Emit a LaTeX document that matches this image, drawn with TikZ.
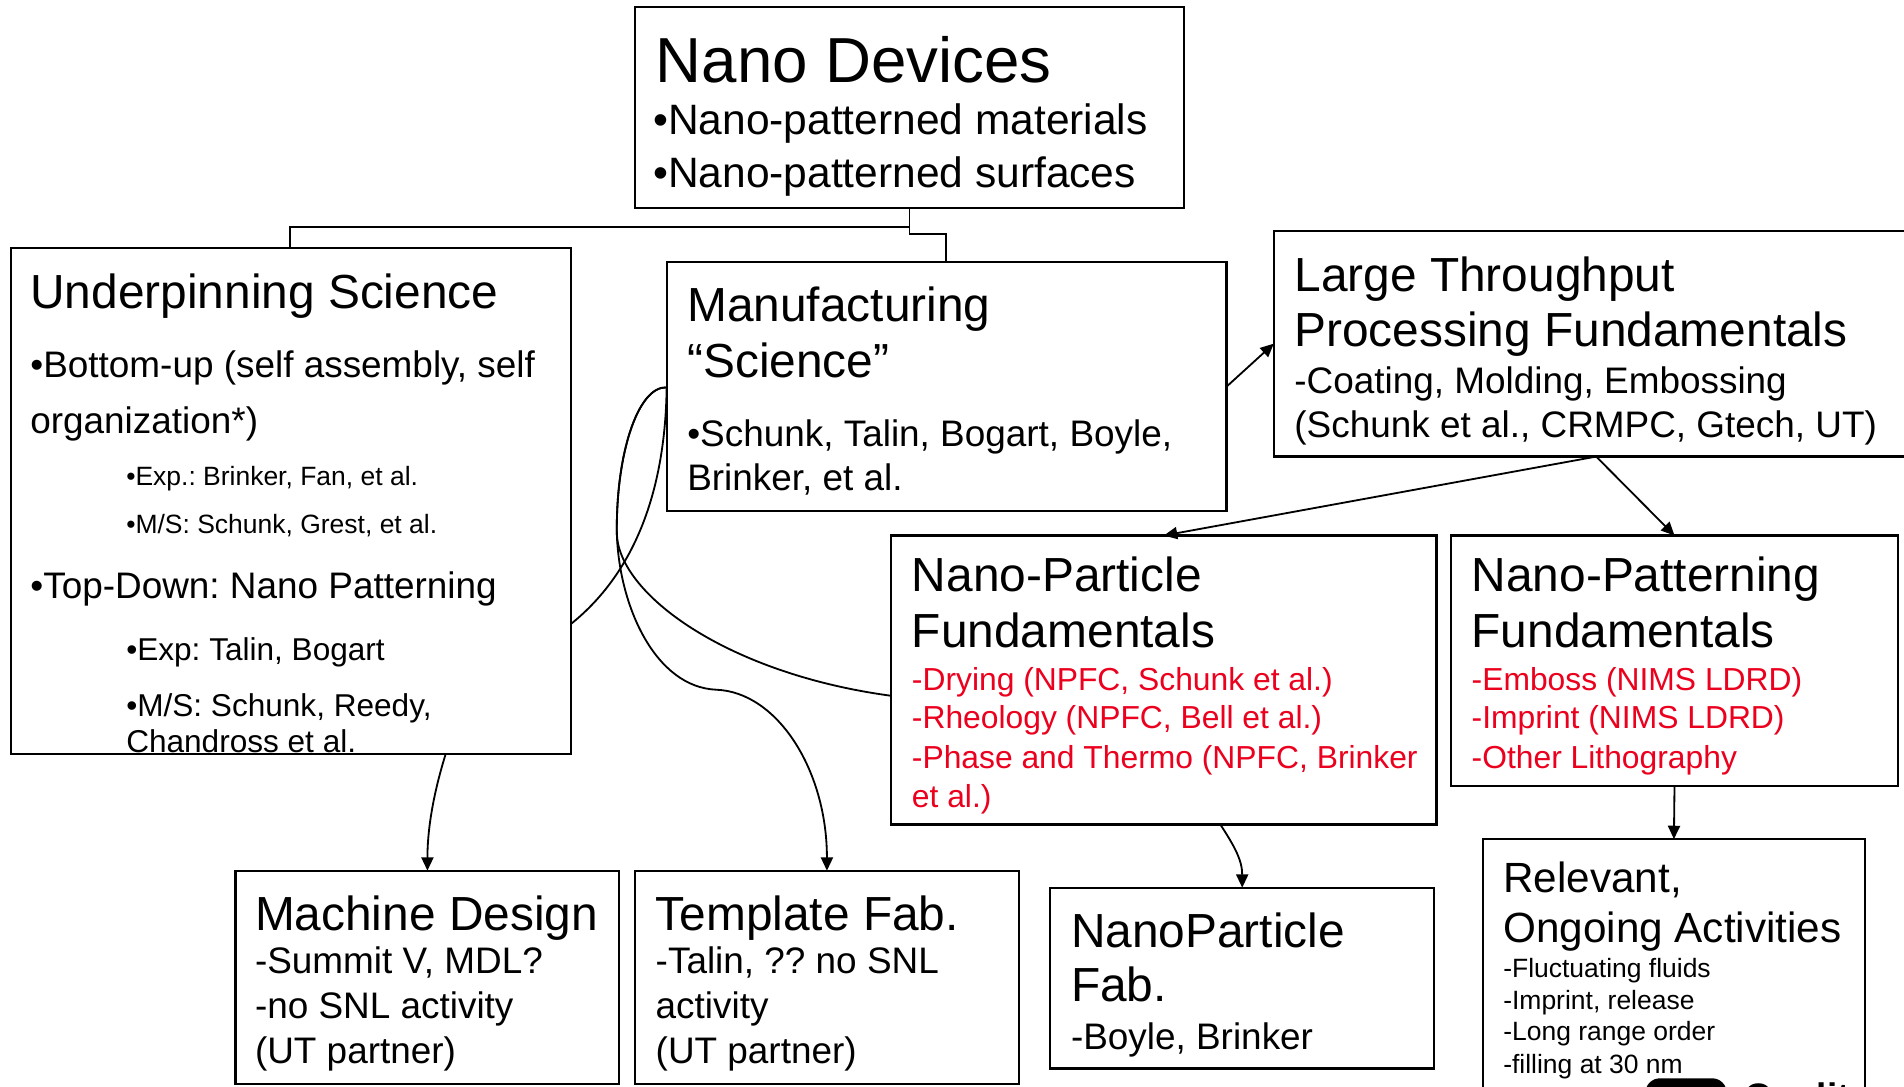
\documentclass[tikz,border=0pt]{standalone}
\usepackage{fontspec}
\setmainfont{Liberation Sans}
\usetikzlibrary{arrows.meta,fit,calc}
\definecolor{myred}{RGB}{235,0,30}
\frenchspacing
\begin{document}
\frenchspacing
\begin{tikzpicture}[x=0.5pt,y=-0.5pt,
  box/.style={draw, line width=0.9pt, inner sep=0pt, outer sep=0pt},
  conn/.style={line width=0.75pt},
  arr/.style={line width=0.75pt, -{Triangle[length=5.5pt,width=5pt]}},
  tx/.style={anchor=base west, inner sep=0pt, outer sep=0pt},
  tA/.style={tx, font=\fontsize{26.2pt}{31pt}\selectfont},
  tB/.style={tx, font=\fontsize{17.5pt}{21pt}\selectfont},
  ttl/.style={tx, font=\fontsize{19.7pt}{23pt}\selectfont},
  ttR/.style={tx, font=\fontsize{17.4pt}{21pt}\selectfont},
  bd/.style={tx, font=\fontsize{15.2pt}{18pt}\selectfont},
  mdt/.style={tx, font=\fontsize{13pt}{16pt}\selectfont},
  sm/.style={tx, font=\fontsize{10.9pt}{13pt}\selectfont},
  rd/.style={tx, text=myred, font=\fontsize{13.1pt}{16pt}\selectfont}]
\useasboundingbox (0,0) rectangle (1568,895);
\fill[white] (0,0) rectangle (1568,895);
\clip (0,0) rectangle (1568,895);

% boxes
\node[box, fit={(523,6)(975,171)}] (nd) {};
\node[box, fit={(9,204)(470,621)}] (us) {};
\node[box, fit={(549,216)(1010,421)}] (ms) {};
\node[box, fit={(1049,190)(1580,376)}] (lt) {};
\node[box, fit={(734,441)(1183,679)}] (np) {};
\node[box, fit={(1195,441)(1563,647)}] (npat) {};
\node[box, fit={(194,717)(510,893)}] (md) {};
\node[box, fit={(523,717)(839,893)}] (tf) {};
\node[box, fit={(865,731)(1181,880)}] (nf) {};
\node[box, fit={(1221,691)(1536,910)}] (ro) {};

% texts: Nano Devices
\node[tA] (nd1) at (540,68) {Nano Devices};
\node[tB] (nd2) at (538,111) {•Nano-patterned materials};
\node[tB] (nd3) at (538,154) {•Nano-patterned surfaces};

% Underpinning Science
\node[ttl] (us1) at (25,254) {Underpinning Science};
\node[bd] (us2) at (25,311) {•Bottom-up (self assembly, self};
\node[bd] (us3) at (25,357) {organization*)};
\node[sm] (us4) at (104,400) {•Exp.: Brinker, Fan, et al.};
\node[sm] (us5) at (104,439) {•M/S: Schunk, Grest, et al.};
\node[bd] (us6) at (25,493) {•Top-Down: Nano Patterning};
\node[mdt] (us7) at (104,544) {•Exp: Talin, Bogart};
\node[mdt] (us8) at (104,590) {•M/S: Schunk, Reedy,};
\node[mdt] (us9) at (104,620) {Chandross et al.};

% Manufacturing Science
\node[ttl] (ms1) at (566,265) {Manufacturing};
\node[ttl] (ms2) at (566,311) {“Science”};
\node[bd] (ms3) at (566,368) {•Schunk, Talin, Bogart, Boyle,};
\node[bd] (ms4) at (566,404) {Brinker, et al.};

% Large Throughput
\node[ttl] (lt1) at (1066,240) {Large Throughput};
\node[ttl] (lt2) at (1066,285) {Processing Fundamentals};
\node[bd] (lt3) at (1066,324) {-Coating, Molding, Embossing};
\node[bd] (lt4) at (1066,360) {(Schunk et al., CRMPC, Gtech, UT)};

% Nano-Particle Fundamentals
\node[ttl] (np1) at (751,487) {Nano-Particle};
\node[ttl] (np2) at (751,533) {Fundamentals};
\node[rd] (np3) at (751,569) {-Drying (NPFC, Schunk et al.)};
\node[rd] (np4) at (751,600) {-Rheology (NPFC, Bell et al.)};
\node[rd] (np5) at (751,633) {-Phase and Thermo (NPFC, Brinker};
\node[rd] (np6) at (751,665) {et al.)};

% Nano-Patterning Fundamentals
\node[ttl] (pa1) at (1212,487) {Nano-Patterning};
\node[ttl] (pa2) at (1212,533) {Fundamentals};
\node[rd] (pa3) at (1212,569) {-Emboss (NIMS LDRD)};
\node[rd] (pa4) at (1212,600) {-Imprint (NIMS LDRD)};
\node[rd] (pa5) at (1212,633) {-Other Lithography};

% Machine Design
\node[ttl] (md1) at (210,766) {Machine Design};
\node[bd] (md2) at (210,802) {-Summit V, MDL?};
\node[bd] (md3) at (210,839) {-no SNL activity};
\node[bd] (md4) at (210,876) {(UT partner)};

% Template Fab.
\node[ttl] (tf1) at (540,766) {Template Fab.};
\node[bd] (tf2) at (540,802) {-Talin, ?? no SNL};
\node[bd] (tf3) at (540,839) {activity};
\node[bd] (tf4) at (540,876) {(UT partner)};

% NanoParticle Fab.
\node[ttl] (nf1) at (882,780) {NanoParticle};
\node[ttl] (nf2) at (882,825) {Fab.};
\node[bd] (nf3) at (882,864) {-Boyle, Brinker};

% Relevant, Ongoing Activities
\node[ttR] (ro1) at (1238,735) {Relevant,};
\node[ttR] (ro2) at (1238,776) {Ongoing Activities};
\node[sm] (ro3) at (1238,805) {-Fluctuating fluids};
\node[sm] (ro4) at (1238,831) {-Imprint, release};
\node[sm] (ro5) at (1238,857) {-Long range order};
\node[sm] (ro6) at (1238,884) {-filling at 30 nm};

% cut-off element at the bottom
\node[fill=black, rounded corners=6pt, inner sep=0pt, fit={(1355,888)(1422,930)}] (blob) {};
\node[tx, font=\bfseries\fontsize{15.2pt}{18pt}\selectfont] (qual) at (1437,914) {Quality};

% connectors
\coordinate (jA) at (749,187);
\coordinate (jL) at (239,187);
\coordinate (jB) at (749,193);
\coordinate (jR) at (779,193);
\draw[conn] (nd.south -| jA) -- (jA) -- (jL) -- (us.north -| jL);
\draw[conn] (jA) -- (jB) -- (jR) -- (ms.north -| jR);

\draw[arr] (ms.east) -- (lt.west);
\draw[arr] (lt.south) -- (np.north);
\draw[arr] (lt.south) -- (npat.north);
\draw[arr] (npat.south) -- (ro.north);

\coordinate (npS) at (1005,679);
\draw[arr] (npS) .. controls (1016,696) and (1023,708) .. (nf.north);

\coordinate (usS) at (367,621);
\draw[arr] (usS) .. controls (358,650) and (352,680) .. (md.north);

\coordinate (msW) at (549,319);
\coordinate (usE) at (470,514);
\coordinate (npW) at (734,573);
\draw[conn] (usE) .. controls (525,470) and (548,400) .. (msW);
\draw[arr] (msW) .. controls (525,318) and (507,375) .. (508,440)
  .. controls (510,500) and (540,566) .. (590,568)
  .. controls (640,570) and (681,634) .. (tf.north);
\draw[conn] (msW) .. controls (525,318) and (507,375) .. (508,440)
  .. controls (510,490) and (600,555) .. (npW);
\end{tikzpicture}
\end{document}
